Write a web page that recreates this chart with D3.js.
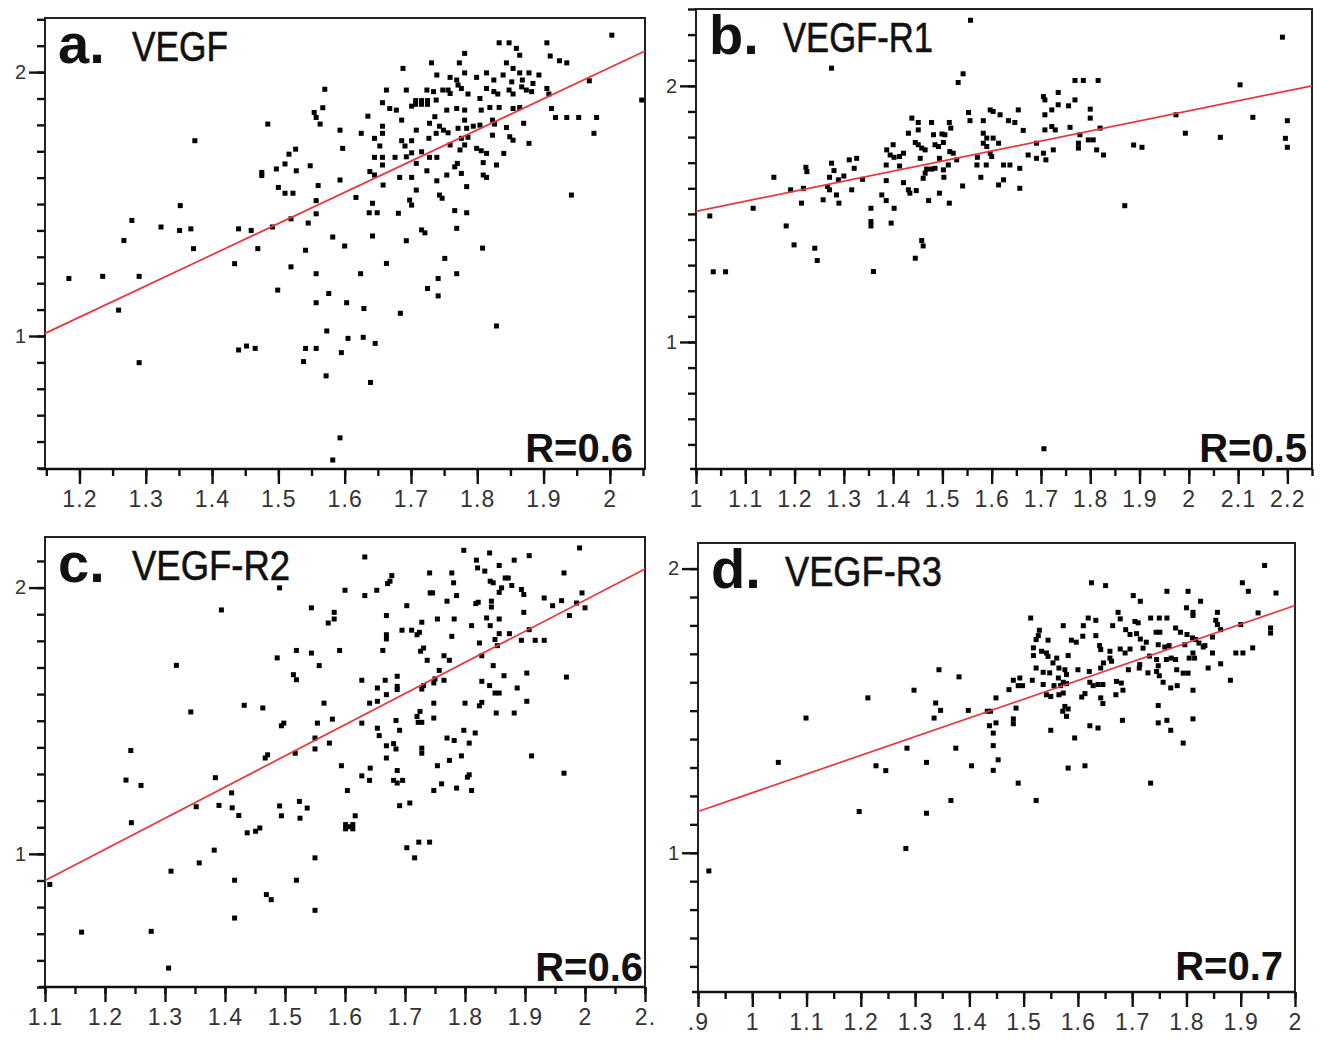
<!DOCTYPE html>
<html>
<head>
<meta charset="utf-8">
<script src="https://cdn.jsdelivr.net/npm/d3@7"></script>
<style>
  body { margin: 0; background: #fff; }
  svg { display: block; }
</style>
</head>
<body>
<div class="canvas"></div>
<script>
// titles and labels
const letters = ['a.', 'b.', 'c.', 'd.'];
const names = ['VEGF', 'VEGF-R1', 'VEGF-R2', 'VEGF-R3'];
const rLabels = ['R=0.6', 'R=0.5', 'R=0.6', 'R=0.7'];

// tick values and their printed labels
const xTicksA = [1.2, 1.3, 1.4, 1.5, 1.6, 1.7, 1.8, 1.9, 2.0];
const xLabelsA = ['1.2', '1.3', '1.4', '1.5', '1.6', '1.7', '1.8', '1.9', '2'];
const xTicksB = [1.0, 1.1, 1.2, 1.3, 1.4, 1.5, 1.6, 1.7, 1.8, 1.9, 2.0, 2.1, 2.2];
const xLabelsB = ['1', '1.1', '1.2', '1.3', '1.4', '1.5', '1.6', '1.7', '1.8', '1.9', '2', '2.1', '2.2'];
const xTicksC = [1.1, 1.2, 1.3, 1.4, 1.5, 1.6, 1.7, 1.8, 1.9, 2.0, 2.1];
const xLabelsC = ['1.1', '1.2', '1.3', '1.4', '1.5', '1.6', '1.7', '1.8', '1.9', '2', '2.'];
const xTicksD = [0.9, 1.0, 1.1, 1.2, 1.3, 1.4, 1.5, 1.6, 1.7, 1.8, 1.9, 2.0];
const xLabelsD = ['.9', '1', '1.1', '1.2', '1.3', '1.4', '1.5', '1.6', '1.7', '1.8', '1.9', '2'];
const yTicks = [1, 2];
const yLabels = ['1', '2'];

// fitted regression lines (two end points each)
const fitA = [[1.148, 1.01], [2.053, 2.08]];
const fitB = [[1.0, 1.51], [2.25, 2.0]];
const fitC = [[1.1, 0.90], [2.1, 2.07]];
const fitD = [[0.9, 1.145], [2.0, 1.87]];

// scatter points [x, y]
const pointsA = [
  [1.833,2.111],[1.848,2.111],[1.859,2.090],[1.864,2.064],[1.905,2.111],[1.910,2.061],[1.924,2.043],[1.935,2.035],[2.003,2.140],
  [1.781,2.071],[1.773,2.035],[1.731,2.035],[1.688,2.014],[1.844,2.035],[1.854,2.014],[1.864,1.997],[1.878,1.997],[1.893,1.989],
  [1.814,1.997],[1.799,1.980],[1.825,1.970],[1.839,1.989],[1.852,1.963],[1.868,1.970],[1.884,1.957],
  [1.739,1.989],[1.759,1.980],[1.769,1.970],[1.781,1.997],[1.771,1.951],
  [1.663,1.932],[1.693,1.932],[1.724,1.932],[1.734,1.926],[1.748,1.932],[1.756,1.932],[1.759,1.919],[1.776,1.938],[1.786,1.917],
  [1.804,1.900],[1.814,1.938],[1.825,1.926],[1.831,1.917],[1.848,1.932],[1.854,1.917],[1.867,1.944],[1.874,1.932],[1.882,1.926],
  [1.905,1.938],[1.908,1.917],[1.969,1.967],
  [1.707,1.892],[1.716,1.892],[1.725,1.892],[1.707,1.878],[1.716,1.878],[1.725,1.878],
  [1.657,1.884],[1.668,1.862],[1.678,1.856],[1.701,1.871],[1.738,1.894],[1.754,1.856],[1.769,1.862],[1.781,1.856],[1.806,1.856],
  [1.819,1.866],[1.833,1.866],[1.854,1.862],[1.864,1.866],[1.912,1.862],[2.048,1.894],
  [1.635,1.833],[1.686,1.818],[1.728,1.806],[1.736,1.831],[1.743,1.795],[1.749,1.780],[1.756,1.770],[1.771,1.787],[1.781,1.818],
  [1.784,1.787],[1.794,1.795],[1.804,1.799],[1.823,1.818],[1.826,1.803],[1.844,1.790],[1.870,1.806],[1.918,1.828],[1.935,1.828],
  [1.953,1.828],[1.980,1.828],
  [1.593,1.780],[1.625,1.768],[1.657,1.795],[1.657,1.768],[1.645,1.749],[1.653,1.720],[1.686,1.740],[1.701,1.740],[1.691,1.720],
  [1.708,1.780],[1.727,1.749],[1.738,1.768],[1.759,1.724],[1.776,1.749],[1.781,1.724],[1.786,1.753],[1.799,1.711],[1.806,1.702],
  [1.814,1.692],[1.823,1.761],[1.849,1.755],[1.854,1.742],[1.878,1.730],[1.976,1.768],
  [1.597,1.711],[1.645,1.677],[1.657,1.677],[1.657,1.648],[1.676,1.677],[1.701,1.694],[1.693,1.679],[1.708,1.654],[1.716,1.698],
  [1.728,1.677],[1.739,1.677],[1.770,1.654],[1.766,1.641],[1.774,1.705],[1.809,1.657],[1.829,1.648],[1.840,1.692],
  [1.593,1.591],[1.638,1.623],[1.645,1.610],[1.658,1.572],[1.683,1.601],[1.701,1.601],[1.724,1.626],[1.739,1.588],[1.754,1.610],
  [1.776,1.616],[1.809,1.610],[1.814,1.601],
  [1.617,1.525],[1.642,1.503],[1.637,1.467],[1.649,1.467],[1.681,1.465],[1.698,1.515],[1.701,1.496],[1.708,1.553],[1.743,1.534],
  [1.747,1.522],[1.766,1.475],[1.784,1.467],[1.784,1.566],
  [1.642,1.379],[1.693,1.361],[1.716,1.402],[1.721,1.391],[1.769,1.408],[1.600,1.341],[1.808,1.333],[1.751,1.294],[1.663,1.275],
  [1.942,1.534],
  [1.374,1.740],[1.570,1.935],[1.567,1.865],[1.554,1.847],[1.557,1.828],[1.484,1.803],[1.563,1.803],[1.516,1.689],[1.526,1.708],
  [1.497,1.633],[1.510,1.652],[1.527,1.626],[1.475,1.620],[1.475,1.608],[1.548,1.645],[1.500,1.563],[1.510,1.541],[1.522,1.541],
  [1.560,1.570],[1.557,1.513],[1.557,1.463],[1.545,1.428],[1.519,1.444],[1.491,1.413],[1.469,1.331],[1.459,1.400],[1.440,1.406],
  [1.352,1.494],[1.351,1.400],[1.323,1.413],[1.368,1.406],[1.372,1.331],[1.279,1.438],[1.267,1.362],[1.184,1.218],[1.235,1.226],
  [1.290,1.226],[1.259,1.098],[1.290,0.899],[1.434,1.274],[1.541,1.325],[1.519,1.262],[1.557,1.236],[1.499,1.174],[1.557,1.126],
  [1.576,1.161],[1.603,1.126],[1.582,1.375],[1.624,1.236],[1.629,1.104],
  [1.605,0.991],[1.628,0.995],[1.646,0.972],[1.639,0.824],[1.573,1.019],[1.572,0.849],[1.557,0.953],[1.538,0.903],[1.541,0.953],
  [1.595,0.937],[1.440,0.947],[1.452,0.962],[1.465,0.953],[1.593,0.614],[1.582,0.530],[1.684,1.086],[1.725,1.180],[1.741,1.152],
  [1.769,1.236],[1.741,1.218],[1.829,1.038]
];

const pointsB = [
  [1.275,2.069],[1.542,2.047],[1.532,2.013],[1.769,2.021],[1.786,2.021],[1.816,2.021],[1.705,1.958],[1.708,1.945],[1.735,1.974],
  [1.769,1.945],[1.735,1.926],[1.756,1.922],[1.800,1.909],[1.800,1.874],[1.553,1.896],[1.597,1.906],[1.603,1.900],[1.617,1.887],
  [1.654,1.906],[1.634,1.864],[1.647,1.857],[1.664,1.826],[1.556,1.864],[1.583,1.864],[1.708,1.887],[1.722,1.906],[1.708,1.828],
  [1.722,1.841],[1.729,1.828],[1.759,1.838],[1.779,1.809],[1.820,1.835],[1.776,1.776],[1.776,1.757],[1.796,1.789],[1.806,1.789],
  [1.813,1.750],[1.827,1.730],[1.725,1.750],[1.691,1.776],[1.674,1.730],[1.691,1.717],[1.705,1.737],[1.710,1.711],[1.657,1.678],
  [1.657,1.600],[1.624,1.691],[1.637,1.691],[1.624,1.633],[1.614,1.613],[1.578,1.643],[1.570,1.691],[1.589,1.691],[1.571,1.721],
  [1.583,1.815],[1.590,1.796],[1.583,1.776],[1.590,1.763],[1.603,1.796],[1.614,1.776],[1.597,1.737],[1.600,1.724],[1.541,1.609],
  [1.438,1.874],[1.451,1.857],[1.451,1.828],[1.478,1.857],[1.514,1.857],[1.517,1.835],[1.431,1.815],[1.482,1.809],[1.499,1.812],
  [1.505,1.809],[1.445,1.779],[1.458,1.757],[1.465,1.750],[1.451,1.770],[1.485,1.770],[1.492,1.763],[1.502,1.779],[1.515,1.743],
  [1.522,1.737],[1.529,1.711],[1.400,1.770],[1.387,1.750],[1.394,1.730],[1.402,1.721],[1.413,1.724],[1.421,1.737],[1.455,1.717],
  [1.494,1.717],[1.512,1.691],[1.386,1.691],[1.413,1.687],[1.468,1.675],[1.478,1.675],[1.485,1.678],[1.465,1.659],[1.461,1.639],
  [1.502,1.672],[1.503,1.643],[1.386,1.630],[1.421,1.622],[1.431,1.594],[1.447,1.591],[1.434,1.581],[1.377,1.574],[1.386,1.552],
  [1.402,1.522],[1.472,1.552],[1.494,1.581],[1.514,1.542],[1.355,1.522],[1.355,1.470],[1.355,1.453],[1.396,1.464],[1.458,1.396],
  [1.461,1.375],[1.445,1.327],[1.360,1.275],[1.241,1.366],[1.246,1.318],[1.199,1.379],[1.183,1.453],[1.116,1.522],[1.158,1.643],
  [1.214,1.542],[1.192,1.594],[1.218,1.600],[1.223,1.682],[1.225,1.665],[1.258,1.555],[1.267,1.607],[1.271,1.594],[1.285,1.574],
  [1.290,1.542],[1.275,1.698],[1.280,1.669],[1.271,1.643],[1.289,1.633],[1.300,1.648],[1.311,1.711],[1.326,1.717],[1.321,1.678],
  [1.316,1.594],[1.338,1.635],
  [1.028,1.492],[1.035,1.274],[1.060,1.274],[1.557,2.256],[1.706,0.583],[1.870,1.532],[1.888,1.769],[1.905,1.760],[1.974,1.887],
  [1.993,1.815],[2.064,1.799],[2.104,2.004],[2.130,1.877],[2.190,2.190],[2.200,1.864],[2.196,1.795],[2.200,1.760]
];

const pointsC = [
  [1.633,2.115],[1.491,1.999],[1.544,1.924],[1.600,1.990],[1.633,1.970],[1.653,1.990],[1.678,2.045],[1.675,2.024],[1.671,2.015],
  [1.582,1.907],[1.582,1.882],[1.572,1.867],[1.669,1.895],[1.669,1.823],[1.669,1.807],[1.695,1.840],[1.711,1.840],[1.720,1.823],
  [1.724,1.832],[1.728,1.870],[1.703,1.932],[1.741,2.055],[1.742,1.980],[1.746,1.980],[1.778,2.055],[1.781,2.018],[1.770,1.949],
  [1.786,1.970],[1.754,1.882],[1.782,1.882],[1.778,1.817],[1.798,2.140],[1.819,2.103],[1.821,2.074],[1.841,2.130],[1.833,2.062],
  [1.857,2.083],[1.882,2.103],[1.907,2.120],[1.842,2.024],[1.847,2.018],[1.867,2.036],[1.872,2.036],[1.861,1.999],[1.857,1.982],
  [1.878,2.008],[1.894,1.993],[1.898,1.974],[1.818,1.940],[1.822,1.945],[1.844,1.949],[1.844,1.927],[1.932,1.961],[1.946,1.932],
  [1.961,1.951],[1.965,2.055],[1.991,2.149],[1.995,1.980],[2.000,1.924],[1.986,1.942],[1.974,1.895],[1.898,1.907],[1.811,1.857],
  [1.836,1.886],[1.842,1.857],[1.857,1.882],[1.857,1.827],[1.874,1.827],[1.850,1.805],[1.894,1.802],[1.917,1.802],[1.932,1.802],
  [1.907,1.842],[1.824,1.792],[1.828,1.744],[1.854,1.782],[1.519,1.764],[1.544,1.754],[1.591,1.764],[1.487,1.736],[1.557,1.707],
  [1.663,1.764],[1.731,1.773],[1.726,1.761],[1.737,1.727],[1.765,1.744],[1.774,1.727],[1.757,1.689],[1.847,1.707],[1.865,1.669],
  [1.903,1.679],[1.969,1.664],[1.514,1.673],[1.519,1.654],[1.628,1.652],[1.654,1.623],[1.667,1.652],[1.669,1.598],[1.687,1.667],
  [1.687,1.629],[1.687,1.617],[1.728,1.619],[1.731,1.632],[1.748,1.642],[1.750,1.657],[1.765,1.652],[1.828,1.648],[1.841,1.632],
  [1.850,1.604],[1.857,1.604],[1.887,1.623],[1.903,1.573],[1.828,1.569],[1.824,1.556],[1.800,1.566],[1.852,1.529],[1.882,1.529],
  [1.748,1.566],[1.748,1.510],[1.725,1.535],[1.720,1.516],[1.722,1.494],[1.728,1.494],[1.685,1.501],[1.691,1.464],[1.641,1.566],
  [1.654,1.573],[1.628,1.491],[1.654,1.472],[1.657,1.444],[1.565,1.566],[1.579,1.506],[1.554,1.491],[1.463,1.548],[1.498,1.491],
  [1.494,1.481],[1.550,1.435],[1.550,1.394],[1.574,1.416],[1.517,1.378],[1.467,1.360],[1.471,1.372],[1.669,1.406],[1.681,1.414],
  [1.685,1.394],[1.669,1.360],[1.728,1.397],[1.728,1.378],[1.770,1.435],[1.782,1.426],[1.798,1.464],[1.817,1.454],[1.807,1.416],
  [1.794,1.368],[1.774,1.351],[1.754,1.331],[1.594,1.331],[1.628,1.293],[1.642,1.322],[1.641,1.276],[1.687,1.313],[1.681,1.276],
  [1.687,1.266],[1.696,1.276],[1.748,1.238],[1.761,1.263],[1.786,1.247],[1.804,1.288],[1.807,1.297],[1.811,1.238],[1.911,1.368],
  [1.965,1.303],[1.604,1.238],[1.491,1.180],[1.494,1.143],[1.524,1.197],[1.537,1.172],[1.525,1.134],[1.691,1.181],[1.708,1.191],
  [1.601,1.094],[1.613,1.094],[1.601,1.110],[1.613,1.110],[1.607,1.102],
  [1.617,1.143],[1.458,1.097],
  [1.394,1.916],[1.319,1.708],[1.343,1.533],[1.432,1.558],[1.243,1.388],[1.235,1.277],[1.260,1.257],[1.244,1.117],[1.352,1.177],
  [1.384,1.286],[1.390,1.182],[1.411,1.229],[1.412,1.173],[1.423,1.144],[1.437,1.079],[1.451,1.085],[1.382,1.014],[1.357,0.966],
  [1.310,0.935],[1.108,0.885],[1.161,0.706],[1.277,0.709],[1.306,0.571],[1.416,0.759],[1.416,0.901],[1.469,0.847],[1.477,0.828],
  [1.550,0.985],[1.550,0.788],[1.519,0.901],[1.703,1.023],[1.723,1.044],[1.741,1.044],[1.716,0.985]
];

const pointsD = [
  [1.944,2.011],[1.625,1.950],[1.651,1.940],[1.764,1.920],[1.803,1.920],[1.903,1.950],[1.914,1.920],[1.965,1.914],[1.702,1.905],
  [1.715,1.885],[1.826,1.885],[1.800,1.862],[1.812,1.846],[1.812,1.835],[1.513,1.826],[1.619,1.826],[1.633,1.818],[1.674,1.846],
  [1.678,1.823],[1.734,1.826],[1.750,1.826],[1.764,1.826],[1.705,1.814],[1.711,1.809],[1.664,1.799],[1.857,1.846],[1.854,1.818],
  [1.857,1.803],[1.863,1.785],[1.932,1.844],[1.900,1.803],[1.955,1.791],[1.955,1.773],[1.573,1.799],[1.610,1.799],[1.609,1.762],
  [1.633,1.764],[1.688,1.785],[1.696,1.768],[1.708,1.771],[1.715,1.752],[1.726,1.741],[1.744,1.776],[1.751,1.776],[1.780,1.791],
  [1.789,1.776],[1.801,1.768],[1.811,1.756],[1.817,1.750],[1.529,1.783],[1.527,1.764],[1.523,1.750],[1.545,1.748],[1.588,1.748],
  [1.597,1.741],[1.848,1.759],[1.748,1.732],[1.760,1.724],[1.768,1.729],[1.797,1.732],[1.823,1.738],[1.831,1.724],[1.834,1.729],
  [1.640,1.729],[1.642,1.715],[1.659,1.709],[1.678,1.717],[1.687,1.703],[1.696,1.717],[1.720,1.720],[1.732,1.692],[1.518,1.721],
  [1.518,1.694],[1.533,1.709],[1.542,1.703],[1.545,1.691],[1.561,1.685],[1.554,1.668],[1.582,1.694],[1.659,1.685],[1.662,1.674],
  [1.647,1.668],[1.642,1.650],[1.621,1.638],[1.693,1.644],[1.713,1.650],[1.714,1.662],[1.745,1.680],[1.748,1.658],[1.745,1.638],
  [1.750,1.623],[1.763,1.680],[1.772,1.685],[1.780,1.680],[1.782,1.644],[1.794,1.632],[1.803,1.632],[1.805,1.685],[1.815,1.685],
  [1.812,1.703],[1.848,1.703],[1.863,1.665],[1.891,1.703],[1.904,1.703],[1.922,1.721],[1.840,1.650],[1.881,1.607],[1.812,1.572],
  [1.757,1.600],[1.771,1.580],[1.783,1.588],[1.729,1.633],[1.523,1.650],[1.536,1.635],[1.548,1.633],[1.565,1.650],[1.564,1.615],
  [1.576,1.644],[1.579,1.627],[1.600,1.644],[1.516,1.607],[1.536,1.592],[1.556,1.588],[1.568,1.588],[1.579,1.595],[1.573,1.600],
  [1.622,1.600],[1.628,1.588],[1.637,1.592],[1.646,1.592],[1.671,1.603],[1.680,1.597],[1.542,1.556],[1.550,1.550],[1.565,1.556],
  [1.573,1.562],[1.607,1.548],[1.613,1.560],[1.642,1.545],[1.646,1.525],[1.670,1.556],[1.683,1.572],[1.481,1.607],[1.493,1.615],
  [1.490,1.588],[1.498,1.588],[1.473,1.574],[1.449,1.545],[1.486,1.509],[1.481,1.471],[1.481,1.454],[1.576,1.515],[1.582,1.506],
  [1.572,1.498],[1.579,1.480],[1.682,1.466],[1.622,1.447],[1.637,1.439],[1.550,1.431],[1.594,1.404],[1.748,1.518],[1.748,1.457],
  [1.764,1.466],[1.771,1.431],[1.812,1.471],[1.794,1.386],[1.582,1.298],[1.613,1.306],[1.490,1.245],[1.734,1.245],[1.338,1.527],
  [1.347,1.501],[1.335,1.474],[1.344,1.644],[1.381,1.619],[1.398,1.501],[1.433,1.498],[1.439,1.498],[1.437,1.447],[1.449,1.457],
  [1.444,1.421],[1.444,1.377],[1.453,1.327],[1.444,1.290],[1.375,1.368],[1.404,1.306],
  [0.920,0.936],[1.048,1.318],[1.099,1.474],[1.197,1.145],[1.213,1.545],[1.228,1.306],[1.246,1.289],[1.283,1.015],[1.285,1.368],
  [1.298,1.572],[1.321,1.318],[1.321,1.139],[1.366,1.184],[1.523,1.184]
];

const svg = d3.select('.canvas')
  .append('svg')
    .attr('width', 1325)
    .attr('height', 1040);

// panel frames in pixels, plus scale domains
const panels = [
  {pts: pointsA, fit: fitA, xt: xTicksA, xl: xLabelsA, left: 45, right: 645, top: 18, bottom: 469,
   xDom: [1.148, 2.053], yDom: [0.496, 2.205], nameLen: 96, rRight: 633, rBase: 462},
  {pts: pointsB, fit: fitB, xt: xTicksB, xl: xLabelsB, left: 696, right: 1312, top: 9, bottom: 469,
   xDom: [1.0, 2.25], yDom: [0.504, 2.3], nameLen: 150, rRight: 1307, rBase: 462},
  {pts: pointsC, fit: fitC, xt: xTicksC, xl: xLabelsC, left: 45, right: 645, top: 537, bottom: 987,
   xDom: [1.1, 2.1], yDom: [0.5, 2.19], nameLen: 158, rRight: 643, rBase: 981},
  {pts: pointsD, fit: fitD, xt: xTicksD, xl: xLabelsD, left: 698, right: 1295, top: 543, bottom: 992,
   xDom: [0.9, 2.0], yDom: [0.51, 2.09], nameLen: 157, rRight: 1283, rBase: 980}
];

const tickFont = "'Liberation Sans', Arial, sans-serif";

panels.forEach((p, k) => {
  const x = d3.scaleLinear().domain(p.xDom).range([p.left, p.right]);
  const y = d3.scaleLinear().domain(p.yDom).range([p.bottom, p.top]);
  const graph = svg.append('g');

  // frame first, ticks sit on top of it
  graph.append('rect')
    .attr('x', p.left).attr('y', p.top)
    .attr('width', p.right - p.left).attr('height', p.bottom - p.top)
    .attr('fill', 'none').attr('stroke', '#222').attr('stroke-width', 2);
  graph.append('line')
    .attr('x1', p.left - 6).attr('x2', p.right)
    .attr('y1', p.bottom).attr('y2', p.bottom)
    .attr('stroke', '#111').attr('stroke-width', 2.4);

  // minor ticks every 0.05 on x, 0.1 on y
  const xMinor = d3.range(Math.ceil(p.xDom[0] * 20 - 1e-6), Math.floor(p.xDom[1] * 20 + 1e-6) + 1).map(i => i / 20);
  const yMinor = d3.range(Math.ceil(p.yDom[0] * 10 - 1e-6), Math.floor(p.yDom[1] * 10 + 1e-6) + 1).map(i => i / 10);

  const xMinorGroup = graph.append('g')
    .attr('transform', `translate(0, ${p.bottom})`)
    .call(d3.axisBottom(x).tickValues(xMinor).tickSize(7).tickSizeOuter(0).tickFormat(() => ''));
  const xAxisGroup = graph.append('g')
    .attr('transform', `translate(0, ${p.bottom})`)
    .call(d3.axisBottom(x).tickValues(p.xt).tickSize(15).tickSizeOuter(0).tickPadding(7)
      .tickFormat((d, i) => p.xl[i]));

  const yMinorGroup = graph.append('g')
    .attr('transform', `translate(${p.left}, 0)`)
    .call(d3.axisLeft(y).tickValues(yMinor).tickSize(8).tickSizeOuter(0).tickFormat(() => ''));
  const yAxisGroup = graph.append('g')
    .attr('transform', `translate(${p.left}, 0)`)
    .call(d3.axisLeft(y).tickValues(yTicks).tickSize(16).tickSizeOuter(0).tickPadding(3)
      .tickFormat((d, i) => yLabels[i]));

  [xMinorGroup, xAxisGroup, yMinorGroup, yAxisGroup].forEach(a => {
    a.select('.domain').remove();
    a.selectAll('.tick line').attr('stroke', '#111').attr('stroke-width', 2.4);
  });
  xAxisGroup.selectAll('text')
    .attr('font-family', tickFont).attr('font-size', 23).attr('fill', '#333')
    .attr('letter-spacing', 1.2);
  yAxisGroup.selectAll('text')
    .attr('font-family', tickFont).attr('font-size', 20).attr('fill', '#333');

  // points
  graph.append('g').selectAll('rect')
    .data(p.pts)
    .enter()
    .append('rect')
      .attr('x', d => x(d[0]) - 2.5)
      .attr('y', d => y(d[1]) - 2.5)
      .attr('width', 5)
      .attr('height', 5)
      .attr('fill', '#000');

  // regression line
  const line = d3.line().x(d => x(d[0])).y(d => y(d[1]));
  graph.append('path')
    .attr('d', line(p.fit))
    .attr('fill', 'none')
    .attr('stroke', '#e8363c')
    .attr('stroke-width', 1.7);

  // panel title
  graph.append('text')
    .attr('x', p.left + 13).attr('y', p.top + 45)
    .attr('font-family', tickFont).attr('font-weight', 'bold').attr('font-size', 56)
    .attr('fill', '#111')
    .text(letters[k]);
  graph.append('text')
    .attr('x', p.left + 87).attr('y', p.top + 43)
    .attr('font-family', tickFont).attr('font-size', 42)
    .attr('textLength', p.nameLen).attr('lengthAdjust', 'spacingAndGlyphs')
    .attr('fill', '#111').attr('stroke', '#111').attr('stroke-width', 0.6)
    .text(names[k]);

  // correlation label
  graph.append('text')
    .attr('x', p.rRight).attr('y', p.rBase)
    .attr('text-anchor', 'end')
    .attr('font-family', tickFont).attr('font-weight', 'bold').attr('font-size', 40)
    .attr('fill', '#111')
    .text(rLabels[k]);
});
</script>
</body>
</html>
